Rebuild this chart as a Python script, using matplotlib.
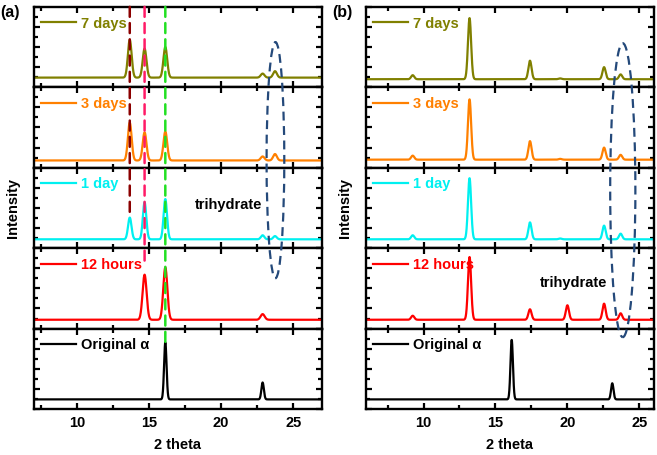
import numpy as np
import matplotlib
matplotlib.use("Agg")
import matplotlib.pyplot as plt
from matplotlib.patches import ConnectionPatch, Ellipse
from matplotlib.ticker import MultipleLocator
import matplotlib.transforms as mtransforms

plt.rcParams['font.family'] = ['Liberation Sans', 'DejaVu Sans']
plt.rcParams['font.weight'] = 'bold'

# sample names and colours (top row first)
labels = ["7 days", "3 days", "1 day", "12 hours", "Original α"]
colors = ["#808000", "#FF8000", "#00F0F0", "#FF0000", "#000000"]

# panel (a): peak positions (2 theta) and relative heights per sample
a_pos = [13.65, 14.68, 16.12, 22.88, 23.74]
a_7d = [0.47, 0.36, 0.38, 0.05, 0.08]
a_3d = [0.47, 0.35, 0.36, 0.05, 0.08]
a_1d = [0.27, 0.46, 0.50, 0.05, 0.04]
a_12h = [0.00, 0.56, 0.65, 0.07, 0.00]
a_orig = [0.00, 0.00, 0.71, 0.21, 0.00]
a_base = [0.12, 0.09, 0.11, 0.11, 0.12]
a_width = [0.13, 0.13, 0.12, 0.14, 0.085]

# panel (b)
b_pos = [9.25, 13.2, 16.13, 17.4, 19.5, 20.0, 22.55, 23.12, 23.7]
b_7d = [0.05, 0.76, 0.00, 0.23, 0.01, 0.00, 0.15, 0.00, 0.06]
b_3d = [0.05, 0.75, 0.00, 0.23, 0.01, 0.00, 0.15, 0.00, 0.06]
b_1d = [0.05, 0.76, 0.00, 0.21, 0.01, 0.00, 0.17, 0.00, 0.07]
b_12h = [0.05, 0.78, 0.00, 0.13, 0.00, 0.18, 0.20, 0.00, 0.08]
b_orig = [0.00, 0.00, 0.74, 0.00, 0.00, 0.00, 0.00, 0.20, 0.00]
b_base = [0.10, 0.10, 0.11, 0.11, 0.12]
b_width = [0.11, 0.11, 0.11, 0.11, 0.085]

# reference lines in (a): position, colour, (last row, y where it stops)
ref_x = [13.65, 14.68, 16.12]
ref_colors = ["#8B0000", "#FF1A66", "#22E022"]
ref_end = [(2, 0.45), (3, 0.78), (4, 0.82)]


def pattern(x, pos, heights, base, width):
    y = np.full_like(x, base)
    for p, h in zip(pos, heights):
        y += h * np.exp(-0.5 * ((x - p) / width) ** 2)
    return y


def panel(fig, left, right, xlim, pos, rows, bases, widths, tag):
    gs = fig.add_gridspec(5, 1, left=left, right=right, top=0.985,
                          bottom=0.101, hspace=0)
    axs = []
    x = np.linspace(xlim[0], xlim[1], 2000)
    for i in range(5):
        ax = fig.add_subplot(gs[i, 0], sharex=axs[0] if axs else None)
        ax.plot(x, pattern(x, pos, rows[i], bases[i], widths[i]),
                color=colors[i], lw=1.6, label=labels[i])
        ax.set_xlim(*xlim)
        ax.set_ylim(0, 1)
        ax.xaxis.set_major_locator(MultipleLocator(5))
        ax.xaxis.set_minor_locator(MultipleLocator(2.5))
        ax.yaxis.set_major_locator(MultipleLocator(0.25))
        ax.yaxis.set_minor_locator(MultipleLocator(0.125))
        ax.tick_params(which='both', direction='in', top=True, right=True,
                       width=1.6, labelleft=False)
        ax.tick_params(which='major', length=4.5)
        ax.tick_params(which='minor', length=3)
        ax.tick_params(axis='x', labelsize=10.5, pad=5)
        for s in ax.spines.values():
            s.set_linewidth(1.7)
        if i < 4:
            ax.tick_params(labelbottom=False)
        leg = ax.legend(loc='upper left', bbox_to_anchor=(0, 0.97),
                        frameon=False, handlelength=2.4, handletextpad=0.3,
                        borderaxespad=0.2, borderpad=0.3,
                        prop={'size': 10.5, 'weight': 'bold'})
        for t in leg.get_texts():
            t.set_color(colors[i])
        axs.append(ax)
    axs[4].set_xlabel("2 theta", fontsize=10.5, fontweight='bold', labelpad=6)
    axs[2].set_ylabel("Intensity", fontsize=10.5, fontweight='bold', labelpad=10)
    fig.text(left - 0.052, 0.972, tag, fontsize=11.5, fontweight='bold',
             ha='left', va='center')
    return axs


fig = plt.figure(figsize=(6.57, 4.55), dpi=100)

axa = panel(fig, 0.0518, 0.490, (7, 27), a_pos,
            [a_7d, a_3d, a_1d, a_12h, a_orig], a_base, a_width, "(a)")
axb = panel(fig, 0.557, 0.995, (6, 26), b_pos,
            [b_7d, b_3d, b_1d, b_12h, b_orig], b_base, b_width, "(b)")

# dashed reference lines across the stacked rows of (a)
for x0, c, (row, yend) in zip(ref_x, ref_colors, ref_end):
    con = ConnectionPatch(xyA=(x0, 1), coordsA="data", axesA=axa[0],
                          xyB=(x0, yend), coordsB="data", axesB=axa[row],
                          color=c, lw=1.8, linestyle=(0, (4, 2.5)))
    fig.add_artist(con)

# dashed ellipses marking the trihydrate peaks
for ax, cx, w, cy, h in [(axa[0], 23.77, 1.23, 0.648, 0.519),
                         (axb[0], 23.85, 1.75, 0.582, 0.646)]:
    tr = mtransforms.blended_transform_factory(ax.transData, fig.transFigure)
    fig.add_artist(Ellipse((cx, cy), w, h, transform=tr, fill=False,
                           edgecolor="#24497A", lw=1.6,
                           linestyle=(0, (4, 2.5))))

axa[2].text(20.5, 0.54, "trihydrate", fontsize=10.5, fontweight='bold',
            ha='center', va='center')
axb[3].text(20.4, 0.57, "trihydrate", fontsize=10.5, fontweight='bold',
            ha='center', va='center')

fig.savefig("out.png", dpi=100)
